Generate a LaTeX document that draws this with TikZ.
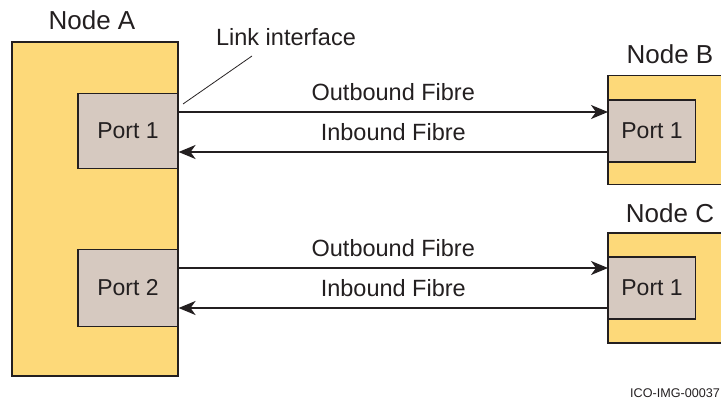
\documentclass[tikz,border=0pt]{standalone}
\usepackage{fontspec}
\setmainfont{Liberation Sans}
\usetikzlibrary{arrows.meta,positioning}

\definecolor{nodeyellow}{HTML}{FDD979}
\definecolor{portgray}{HTML}{D6C9C0}
\definecolor{edgedark}{HTML}{231F20}

\tikzset{
    nodebox/.style={draw=edgedark, line width=1.8pt, fill=nodeyellow, inner sep=0pt},
    portbox/.style={draw=edgedark, line width=1.1pt, fill=portgray, inner sep=0pt,
        text=edgedark, font=\fontsize{23}{27}\selectfont},
    fibre/.style={draw=edgedark, line width=1.8pt, -{Stealth[length=17pt, width=14pt, inset=5pt]}},
    lbl/.style={text=edgedark, inner sep=0pt, font=\fontsize{23.5}{27}\selectfont},
    title/.style={text=edgedark, inner sep=0pt, font=\fontsize{26}{30}\selectfont},
}

\begin{document}
\begin{tikzpicture}[x=1pt, y=-1pt]
    % Marco de la figura
    \useasboundingbox (0,0) rectangle (721,401);

    % Nodo A con sus dos puertos
    \node[nodebox, minimum width=166pt, minimum height=334pt] (nodeA) at (95,209) {};
    \node[title] (nodeAlbl) at (92,20) {Node A};
    \node[portbox, minimum width=100pt, minimum height=75pt] (portA1) at (128,131) {Port 1};
    \node[portbox, minimum width=100pt, minimum height=77pt] (portA2) at (128,288) {Port 2};

    % Nodos B y C (cortados por el borde derecho)
    \node[nodebox, minimum width=140pt, minimum height=109pt] (nodeB) at (678,130) {};
    \node[title] (nodeBlbl) at (670,54) {Node B};
    \node[portbox, minimum width=87pt, minimum height=62pt, anchor=west] (portB) at (608,131) {Port 1};

    \node[nodebox, minimum width=140pt, minimum height=110pt] (nodeC) at (678,288) {};
    \node[title] (nodeClbl) at (670,213) {Node C};
    \node[portbox, minimum width=87pt, minimum height=62pt, anchor=west] (portC) at (608,288) {Port 1};

    % Fibras entre A y B
    \draw[fibre] ([yshift=19pt]portA1.east) -- node[lbl, above=10pt] {Outbound Fibre} ([yshift=19pt]portB.west);
    \draw[fibre] ([yshift=-21pt]portB.west) -- node[lbl, above=10pt] {Inbound Fibre} ([yshift=-21pt]portA1.east);

    % Fibras entre A y C
    \draw[fibre] ([yshift=20pt]portA2.east) -- node[lbl, above=10pt] {Outbound Fibre} ([yshift=20pt]portC.west);
    \draw[fibre] ([yshift=-20pt]portC.west) -- node[lbl, above=10pt] {Inbound Fibre} ([yshift=-20pt]portA2.east);

    % Etiqueta de la interfaz
    \node[lbl] (linkif) at (286,37) {Link interface};
    \coordinate (lifend) at (183,104);
    \coordinate (lifstart) at (252,56);
    \draw[edgedark, line width=0.8pt] (lifstart) -- (lifend);

    % Referencia de imagen
    \node[text=edgedark, inner sep=0pt, anchor=west, font=\fontsize{12.6}{14}\selectfont] (imgid) at (630,393) {ICO-IMG-00037};
\end{tikzpicture}
\end{document}
